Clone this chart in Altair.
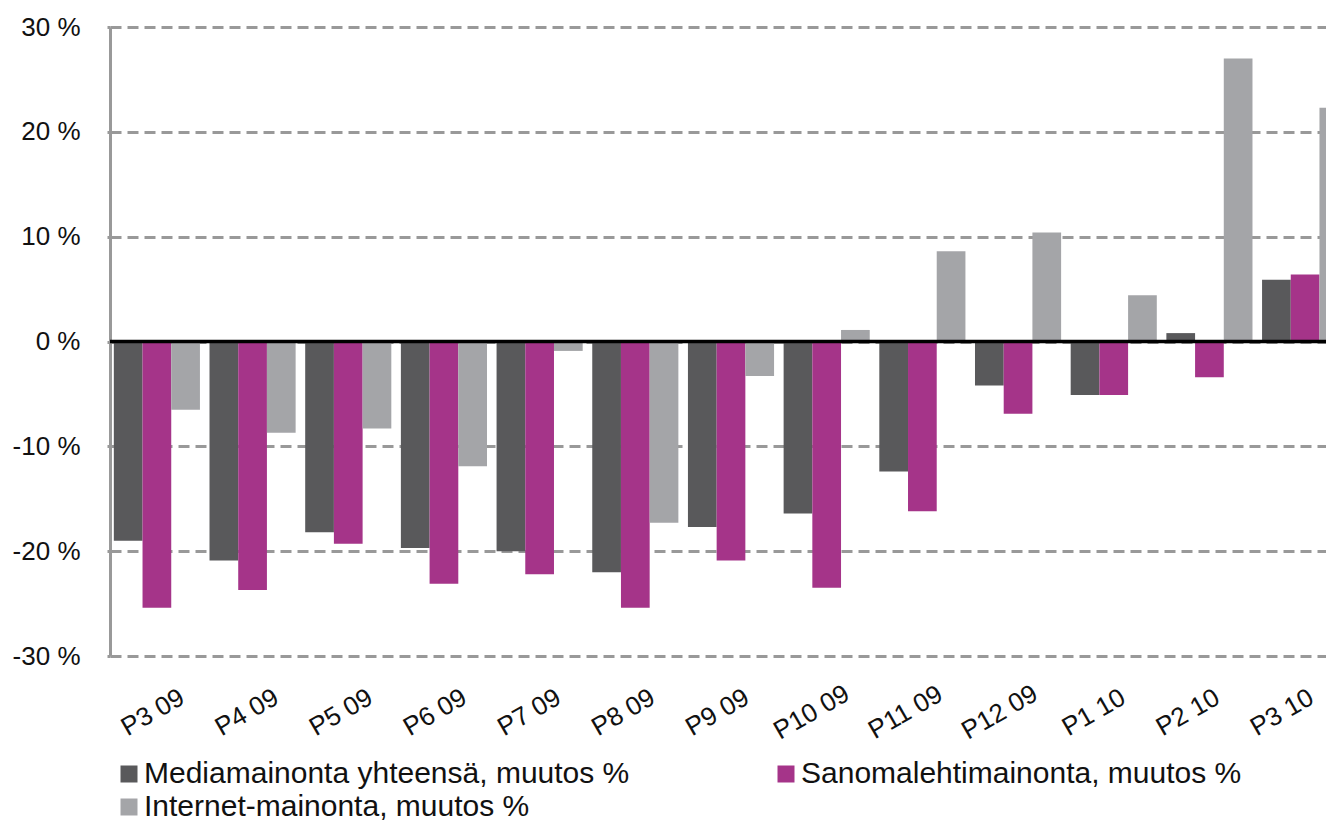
import altair as alt
import pandas as pd

periods = ["P3 09", "P4 09", "P5 09", "P6 09", "P7 09", "P8 09", "P9 09",
           "P10 09", "P11 09", "P12 09", "P1 10", "P2 10", "P3 10"]
media = [-19.0, -20.9, -18.2, -19.7, -20.0, -22.0, -17.7, -16.4, -12.4, -4.2, -5.1, 0.8, 5.9]
sanoma = [-25.4, -23.7, -19.3, -23.1, -22.2, -25.4, -20.9, -23.5, -16.2, -6.9, -5.1, -3.4, 6.4]
internet = [-6.5, -8.7, -8.3, -11.9, -0.9, -17.3, -3.3, 1.1, 8.6, 10.4, 4.4, 27.0, 22.3]

series_names = ["Mediamainonta yhteensä, muutos %",
                "Sanomalehtimainonta, muutos %",
                "Internet-mainonta, muutos %"]
colors = ["#59595b", "#a53489", "#a4a5a8"]
# legend fills column-major: order so row 1 = Media, Sanoma; row 2 = Internet
legend_order = [series_names[0], series_names[2], series_names[1]]
legend_colors = [colors[0], colors[2], colors[1]]

rows = []
for name, vals in zip(series_names, [media, sanoma, internet]):
    for p, v in zip(periods, vals):
        rows.append({"period": p, "series": name, "value": v})
df = pd.DataFrame(rows)

FONT = "Liberation Sans"

bars = alt.Chart(df).mark_bar().encode(
    x=alt.X("period:N", sort=periods, title=None,
            scale=alt.Scale(range=[0, 1242], paddingInner=0.1, paddingOuter=0.04),
            axis=alt.Axis(labelAngle=330, labelAlign="center", labelBaseline="middle",
                          labelPadding=56, labelOffset={"expr": "-4 - 19 * datum.index"},
                          ticks=False, domain=False,
                          labelFontSize=26, labelColor="#111111", labelFont=FONT)),
    xOffset=alt.XOffset("series:N", sort=series_names, scale=alt.Scale(paddingInner=0, paddingOuter=0)),
    y=alt.Y("value:Q", title=None,
            scale=alt.Scale(domain=[-30, 30], nice=False),
            axis=alt.Axis(values=[-30, -20, -10, 0, 10, 20, 30],
                          labelExpr="datum.value + ' %'",
                          labelFontSize=26, labelColor="#111111", labelFont=FONT,
                          labelPadding=27, tickSize=3, tickColor="#999999", tickWidth=3,
                          domainColor="#999999", domainWidth=3,
                          grid=True, gridColor="#999999", gridWidth=3, gridDash=[11, 6])),
    color=alt.Color("series:N", sort=legend_order,
                    scale=alt.Scale(domain=legend_order, range=legend_colors),
                    legend=alt.Legend(title=None, orient="none", legendX=4, legendY=732,
                                      columns=2, columnPadding=141, rowPadding=3,
                                      symbolType="square", symbolSize=289, symbolStrokeWidth=0,
                                      labelFontSize=30, labelFont=FONT, labelColor="#111111",
                                      labelOffset=0, labelLimit=900)),
)

zero = alt.Chart(pd.DataFrame({"z": [0]})).mark_rule(color="#000000", strokeWidth=3.5).encode(
    y=alt.Y("z:Q")
)

chart = alt.layer(bars, zero).properties(
    width=1216, height=629,
    autosize=alt.AutoSizeParams(type="none"),
    padding={"left": 102, "top": 19, "right": 0, "bottom": 166},
).configure_view(strokeWidth=0)

chart.save("out.html", embed_options={"renderer": "svg", "actions": False})
